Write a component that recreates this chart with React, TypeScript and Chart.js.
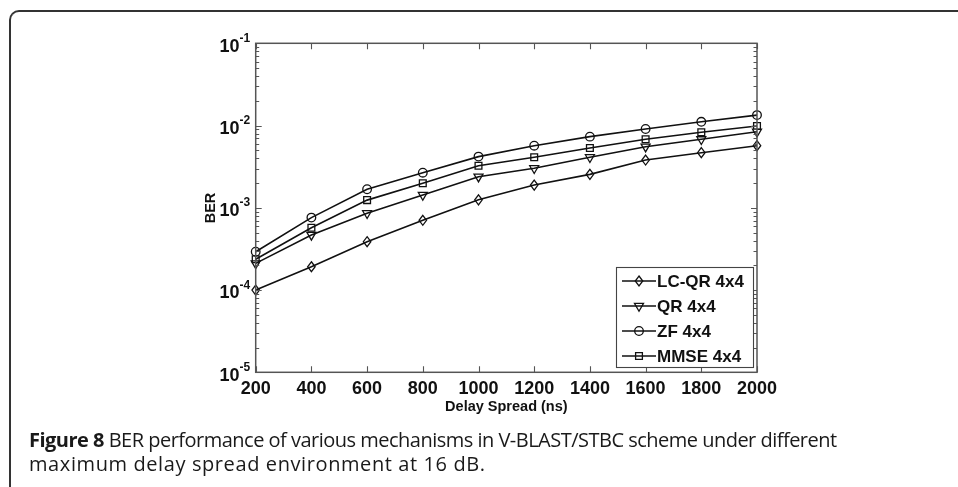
import React, { useEffect, useRef } from 'react';
import { Chart, registerables } from 'chart.js';

Chart.register(...registerables);

const delaySpread = [200, 400, 600, 800, 1000, 1200, 1400, 1600, 1800, 2000];
const lcqr = [1.0e-4, 1.92e-4, 3.87e-4, 7.05e-4, 1.25e-3, 1.89e-3, 2.55e-3, 3.81e-3, 4.68e-3, 5.69e-3];
const qr = [2.11e-4, 4.67e-4, 8.57e-4, 1.43e-3, 2.39e-3, 3.02e-3, 4.11e-3, 5.53e-3, 6.8e-3, 8.4e-3];
const zf = [2.92e-4, 7.6e-4, 1.68e-3, 2.67e-3, 4.19e-3, 5.69e-3, 7.33e-3, 9.08e-3, 1.11e-2, 1.34e-2];
const mmse = [2.37e-4, 5.73e-4, 1.24e-3, 1.99e-3, 3.25e-3, 4.11e-3, 5.33e-3, 6.81e-3, 8.28e-3, 9.89e-3];

const seriesNames = ['LC-QR 4x4', 'QR 4x4', 'ZF 4x4', 'MMSE 4x4'];
const xTickLabels = ['200', '400', '600', '800', '1000', '1200', '1400', '1600', '1800', '2000'];
const yDecadeExponents = [-5, -4, -3, -2, -1];

const xTitle = 'Delay Spread (ns)';
const yTitle = 'BER';

type Marker = { style: string; radius: number; rotation: number };
const markers: Marker[] = [
  { style: 'diamond', radius: 5, rotation: 0 },
  { style: 'triangle', radius: 5.2, rotation: 180 },
  { style: 'circle', radius: 4.3, rotation: 0 },
  { style: 'rect', radius: 4.8, rotation: 0 },
];

function drawMarker(ctx: CanvasRenderingContext2D, m: Marker, x: number, y: number) {
  const r = m.radius;
  ctx.beginPath();
  if (m.style === 'circle') {
    ctx.arc(x, y, r, 0, Math.PI * 2);
  } else if (m.style === 'rect') {
    const s = Math.SQRT1_2 * r;
    ctx.rect(x - s, y - s, 2 * s, 2 * s);
  } else if (m.style === 'diamond') {
    ctx.moveTo(x, y - r);
    ctx.lineTo(x + r * 0.75, y);
    ctx.lineTo(x, y + r);
    ctx.lineTo(x - r * 0.75, y);
    ctx.closePath();
  } else if (m.style === 'triangle') {
    const a = (Math.PI * 2) / 3;
    for (let i = 0; i < 3; i++) {
      const ang = Math.PI + i * a;
      const px = x + Math.sin(ang) * r;
      const py = y - Math.cos(ang) * r;
      if (i === 0) ctx.moveTo(px, py);
      else ctx.lineTo(px, py);
    }
    ctx.closePath();
  }
  ctx.stroke();
}

const seriesList = [lcqr, qr, zf, mmse];

const matlabPlugin = {
  id: 'matlabAxes',
  afterDatasetsDraw(chart: any) {
    const { ctx, chartArea: a, scales } = chart;
    const xs = scales.x;
    const ys = scales.y;
    ctx.save();

    ctx.strokeStyle = '#111';
    ctx.lineWidth = 1.3;
    seriesList.forEach((vals, si) => {
      vals.forEach((v, i) => {
        drawMarker(ctx, markers[si], xs.getPixelForValue(delaySpread[i]), ys.getPixelForValue(v));
      });
    });

    ctx.strokeStyle = '#555';
    ctx.lineWidth = 1.5;
    ctx.strokeRect(a.left, a.top, a.right - a.left, a.bottom - a.top);

    ctx.beginPath();
    ctx.lineWidth = 1.1;
    delaySpread.forEach((t) => {
      const px = Math.round(xs.getPixelForValue(t)) + 0.5;
      ctx.moveTo(px, a.bottom);
      ctx.lineTo(px, a.bottom - 6);
      ctx.moveTo(px, a.top);
      ctx.lineTo(px, a.top + 6);
    });
    yDecadeExponents.forEach((e) => {
      const py = Math.round(ys.getPixelForValue(Math.pow(10, e))) + 0.5;
      ctx.moveTo(a.left, py);
      ctx.lineTo(a.left + 6, py);
      ctx.moveTo(a.right, py);
      ctx.lineTo(a.right - 6, py);
      if (e < -1) {
        for (let m = 2; m <= 9; m++) {
          const pm = Math.round(ys.getPixelForValue(m * Math.pow(10, e))) + 0.5;
          ctx.moveTo(a.left, pm);
          ctx.lineTo(a.left + 3.5, pm);
          ctx.moveTo(a.right, pm);
          ctx.lineTo(a.right - 3.5, pm);
        }
      }
    });
    ctx.stroke();

    ctx.fillStyle = '#111';
    ctx.font = 'bold 18px "Liberation Sans", Arial, sans-serif';
    ctx.textAlign = 'center';
    ctx.textBaseline = 'alphabetic';
    delaySpread.forEach((t, i) => {
      ctx.fillText(xTickLabels[i], xs.getPixelForValue(t), a.bottom + 22);
    });

    yDecadeExponents.forEach((e) => {
      const py = ys.getPixelForValue(Math.pow(10, e));
      const sup = String(e);
      ctx.font = 'bold 12px "Liberation Sans", Arial, sans-serif';
      const supW = ctx.measureText(sup).width;
      const rightEdge = a.left - 5.5;
      ctx.textAlign = 'left';
      ctx.fillText(sup, rightEdge - supW, py - 1.5);
      ctx.font = 'bold 18px "Liberation Sans", Arial, sans-serif';
      ctx.textAlign = 'right';
      ctx.fillText('10', rightEdge - supW, py + 8.4);
    });

    ctx.font = 'bold 14.5px "Liberation Sans", Arial, sans-serif';
    ctx.textAlign = 'center';
    ctx.fillText(xTitle, (a.left + a.right) / 2, a.bottom + 39);
    ctx.save();
    ctx.translate(214.5, 208);
    ctx.rotate(-Math.PI / 2);
    ctx.font = 'bold 14.5px "Liberation Sans", Arial, sans-serif';
    ctx.fillText(yTitle, 0, 0);
    ctx.restore();

    const lx0 = 616, ly0 = 267, lx1 = 753, ly1 = 367;
    ctx.fillStyle = '#fff';
    ctx.fillRect(lx0, ly0, lx1 - lx0, ly1 - ly0);
    ctx.strokeStyle = '#444';
    ctx.lineWidth = 1.1;
    ctx.strokeRect(lx0 + 0.5, ly0 + 0.5, lx1 - lx0, ly1 - ly0);
    const rowY = [281, 306, 331, 356];
    seriesNames.forEach((name, i) => {
      const y = rowY[i];
      ctx.strokeStyle = '#111';
      ctx.lineWidth = 1.5;
      ctx.beginPath();
      ctx.moveTo(622, y);
      ctx.lineTo(656, y);
      ctx.stroke();
      ctx.lineWidth = 1.3;
      drawMarker(ctx, markers[i], 639, y);
      ctx.fillStyle = '#111';
      ctx.font = 'bold 17px "Liberation Sans", Arial, sans-serif';
      ctx.textAlign = 'left';
      ctx.textBaseline = 'middle';
      ctx.fillText(name, 657, y + 1);
      ctx.textBaseline = 'alphabetic';
    });

    ctx.restore();
  },
};

export default function App() {
  const ref = useRef<HTMLCanvasElement | null>(null);

  useEffect(() => {
    if (!ref.current) return;
    const mk = (vals: number[]) => vals.map((v, i) => ({ x: delaySpread[i], y: v }));
    const chart = new Chart(ref.current, {
      type: 'line',
      data: {
        datasets: seriesList.map((vals, i) => ({
          label: seriesNames[i],
          data: mk(vals),
          borderColor: '#111',
          borderWidth: 1.6,
          pointRadius: 0,
          fill: false,
          tension: 0,
        })),
      },
      options: {
        animation: false,
        responsive: false,
        devicePixelRatio: 1,
        layout: { padding: { left: 255.7, top: 43.3, right: 958 - 757, bottom: 487 - 372.3 } },
        plugins: { legend: { display: false }, tooltip: { enabled: false } },
        scales: {
          x: { type: 'linear', min: 200, max: 2000, display: false },
          y: { type: 'logarithmic', min: 1e-5, max: 1e-1, display: false },
        },
      },
      plugins: [matlabPlugin],
    });
    return () => chart.destroy();
  }, []);

  const captionBase: React.CSSProperties = {
    position: 'absolute',
    left: 29,
    whiteSpace: 'nowrap',
    fontFamily: '"Open Sans", sans-serif',
    fontSize: 20,
    lineHeight: '24px',
    color: '#1a1a1a',
  };

  return (
    <div style={{ position: 'absolute', left: 0, top: 0, width: 958, height: 487, overflow: 'hidden', background: '#fff' }}>
      <canvas ref={ref} width={958} height={487} style={{ position: 'absolute', left: 0, top: 0, display: 'block' }} />
      <div
        style={{
          position: 'absolute',
          left: 9,
          top: 10,
          width: 1100,
          height: 700,
          borderTop: '2px solid #333',
          borderLeft: '2px solid #333',
          borderTopLeftRadius: 10,
          pointerEvents: 'none',
        }}
      />
      <div style={{ ...captionBase, top: 428, letterSpacing: '-0.51px' }}>
        <b>Figure 8</b> BER performance of various mechanisms in V-BLAST/STBC scheme under different
      </div>
      <div style={{ ...captionBase, top: 452, letterSpacing: '0.6px' }}>
        maximum delay spread environment at 16 dB.
      </div>
    </div>
  );
}
